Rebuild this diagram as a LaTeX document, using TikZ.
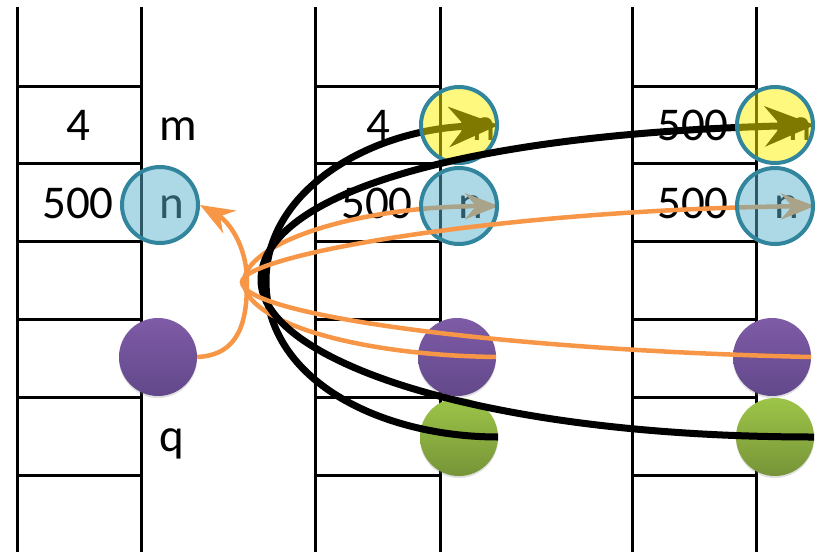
\documentclass[tikz,border=0pt]{standalone}
\usepackage{fontspec}
\setmainfont{Carlito}
\usetikzlibrary{arrows.meta, shadows}

\definecolor{tealline}{RGB}{49,133,156}
\definecolor{ringblue}{RGB}{92,177,204}
\definecolor{orangeline}{RGB}{247,150,70}
\definecolor{purpletop}{RGB}{126,91,166}
\definecolor{purplebot}{RGB}{98,72,138}
\definecolor{greentop}{RGB}{157,197,72}
\definecolor{greenbot}{RGB}{118,148,56}

\pgfdeclarelayer{near}
\pgfdeclarelayer{nearrings}
\pgfdeclarelayer{far}
\pgfdeclarelayer{farrings}
\pgfsetlayers{main,near,nearrings,far,farrings}

\begin{document}
\begin{tikzpicture}[x=1pt, y=-1pt,
    wall/.style={line width=3pt},
    val/.style={font=\fontsize{47}{50}\selectfont, anchor=base, inner sep=0pt},
    ring/.style={circle, draw=tealline, line width=4pt, minimum size=76pt, inner sep=0pt, fill opacity=0.5},
    yring/.style={ring, fill=yellow},
    bring/.style={ring, fill=ringblue},
    ball/.style={circle, minimum size=78pt, inner sep=0pt, drop shadow={opacity=0.25, shadow xshift=0pt, shadow yshift=-2pt}},
    pball/.style={ball, top color=purpletop, bottom color=purplebot},
    gball/.style={ball, top color=greentop, bottom color=greenbot},
    blk/.style={line width=7pt, -{Stealth[length=50pt, width=40pt]}},
    org/.style={draw=orangeline, line width=4.5pt, -{Stealth[length=34pt, width=26pt]}},
]
\useasboundingbox (0,0) rectangle (821,552);

% the three stacks
\foreach \xl/\xr in {17/141, 315/440, 632/756} {
    \draw[wall] (\xl,7) -- (\xl,552);
    \draw[wall] (\xr,7) -- (\xr,552);
    \foreach \y in {86,163,241,319,397,475}
        \draw[wall] (\xl,\y) -- (\xr,\y);
}

% values and names
\node[val] (a4) at (78,140) {4};
\node[val] (a500) at (78,218) {500};
\node[val] (am) at (178,140) {m};
\node[val] (an) at (172,218) {n};
\node[val] (aq) at (172,451) {q};
\node[val] (b4) at (378,140) {4};
\node[val] (b500) at (377,218) {500};
\node[val] (bm) at (477,140) {m};
\node[val] (bn) at (471,218) {n};
\node[val] (c500m) at (693,140) {500};
\node[val] (c500n) at (693,218) {500};
\node[val] (cm) at (793,140) {m};
\node[val] (cn) at (787,218) {n};

% objects
\node[pball] (p0) at (158,357) {};
\node[pball] (p1) at (457,357) {};
\node[gball] (g1) at (459,437) {};
\node[pball] (p2) at (772,357) {};
\node[gball] (g2) at (775,437) {};

\coordinate (t0) at (247,282);
\coordinate (t1) at (244,282);
\coordinate (t2) at (242,282);
\coordinate (k1) at (266,281);
\coordinate (k2) at (261,280);

\begin{pgfonlayer}{nearrings}
\node[bring] (n0) at (160,205) {};
\node[yring] (m1) at (459,125) {};
\node[bring] (n1) at (459,206) {};
\end{pgfonlayer}
\begin{pgfonlayer}{farrings}
\node[yring] (m2) at (775,125) {};
\node[bring] (n2) at (775,206) {};
\end{pgfonlayer}

% pointers, first copy
\begin{pgfonlayer}{near}
\draw[org] (p0.east) .. controls +(43,-2) and +(0,38) .. (t0)
    .. controls +(0,-37) and +(28,16) .. (n0.east);
\draw[blk] (g1.east) .. controls +(-118,0) and +(0,99) .. (k1)
    .. controls +(0,-91) and +(-129,5) .. (m1.east);
\draw[org] (p1.east) .. controls +(-146,-2) and +(0,38) .. (t1)
    .. controls +(0,-37) and +(-149,1) .. (n1.east);
\end{pgfonlayer}

% pointers, second copy
\begin{pgfonlayer}{far}
\draw[blk] (g2.east) .. controls +(-334,0) and +(0,80) .. (k2)
    .. controls +(0,-80) and +(-375,10) .. (m2.east);
\draw[org] (p2.east) .. controls +(-311,-7) and +(0,33) .. (t2)
    .. controls +(0,-27) and +(-315,4) .. (n2.east);
\end{pgfonlayer}
\end{tikzpicture}
\end{document}
